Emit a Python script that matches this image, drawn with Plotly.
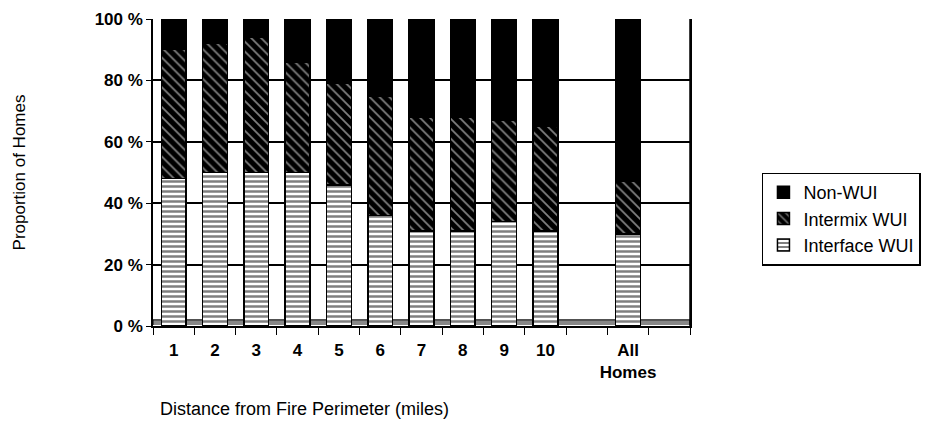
import plotly.graph_objects as go

categories = ["1", "2", "3", "4", "5", "6", "7", "8", "9", "10", " ", "All<br>Homes", "  "]
interface_wui = [48, 50, 50, 50, 46, 36, 31, 31, 34, 31, None, 30, None]
intermix_wui = [42, 42, 44, 36, 33, 39, 37, 37, 33, 34, None, 17, None]
non_wui = [10, 8, 6, 14, 21, 25, 32, 32, 33, 35, None, 53, None]
y_ticks = [0, 20, 40, 60, 80, 100]
y_tick_labels = ["0 %", "20 %", "40 %", "60 %", "80 %", "100 %"]

FONT = "Liberation Sans"

fig = go.Figure()
fig.add_trace(go.Bar(
    x=categories, y=interface_wui, name="Interface WUI",
    marker=dict(color="white", line=dict(color="black", width=1.5),
                pattern=dict(shape="-", fgcolor="black", bgcolor="white", size=5, solidity=0.5)),
))
fig.add_trace(go.Bar(
    x=categories, y=intermix_wui, name="Intermix WUI",
    marker=dict(color="black", line=dict(color="black", width=1.5),
                pattern=dict(shape="\\", fgcolor="white", bgcolor="black", size=7, solidity=0.25)),
))
fig.add_trace(go.Bar(
    x=categories, y=non_wui, name="Non-WUI",
    marker=dict(color="black", line=dict(color="black", width=1.5)),
))

fig.update_layout(
    width=929, height=435,
    barmode="stack", bargap=0.4,
    plot_bgcolor="white", paper_bgcolor="white",
    margin=dict(l=145, r=247, t=11, b=117),
    font=dict(family=FONT, size=15, color="black"),
    legend=dict(
        x=1.134, y=0.50, xanchor="left", yanchor="top",
        traceorder="reversed", bordercolor="black", borderwidth=1.5,
        font=dict(family=FONT, size=18, color="black"),
        itemwidth=30,
    ),
    xaxis=dict(
        type="category", tickson="boundaries", ticks="outside", ticklen=7,
        tickcolor="black", showline=True, linecolor="black", linewidth=1.5,
        mirror=False, showgrid=False, tickangle=0, ticklabelstandoff=8,
        automargin=False,
        tickfont=dict(family=FONT, size=17, color="black", weight="bold"),
    ),
    yaxis=dict(
        range=[0, 100], tickvals=y_ticks, ticktext=y_tick_labels,
        ticks="outside", ticklen=5, tickcolor="black", ticklabeloverflow="allow",
        showline=True, linecolor="black", linewidth=1.5, mirror=True,
        showgrid=True, gridcolor="black", gridwidth=1.5, automargin=False,
        tickfont=dict(family=FONT, size=17, color="black", weight="bold"),
        title=dict(text="Proportion of Homes", standoff=65,
                   font=dict(family=FONT, size=17, color="black")),
    ),
    annotations=[dict(
        text="Distance from Fire Perimeter (miles)", xref="paper", yref="paper",
        x=0.283, y=-0.27, xanchor="center", yanchor="middle", showarrow=False,
        font=dict(family=FONT, size=18, color="black"),
    )],
)
fig.add_shape(type="line", xref="paper", yref="paper", x0=1, x1=1, y0=0, y1=1,
              line=dict(color="black", width=1.5))
fig.add_shape(type="rect", xref="paper", yref="paper", x0=0, x1=1, y0=0, y1=0.02,
              fillcolor="#888888", line=dict(color="black", width=1), layer="below")

fig.write_html("out.html")
